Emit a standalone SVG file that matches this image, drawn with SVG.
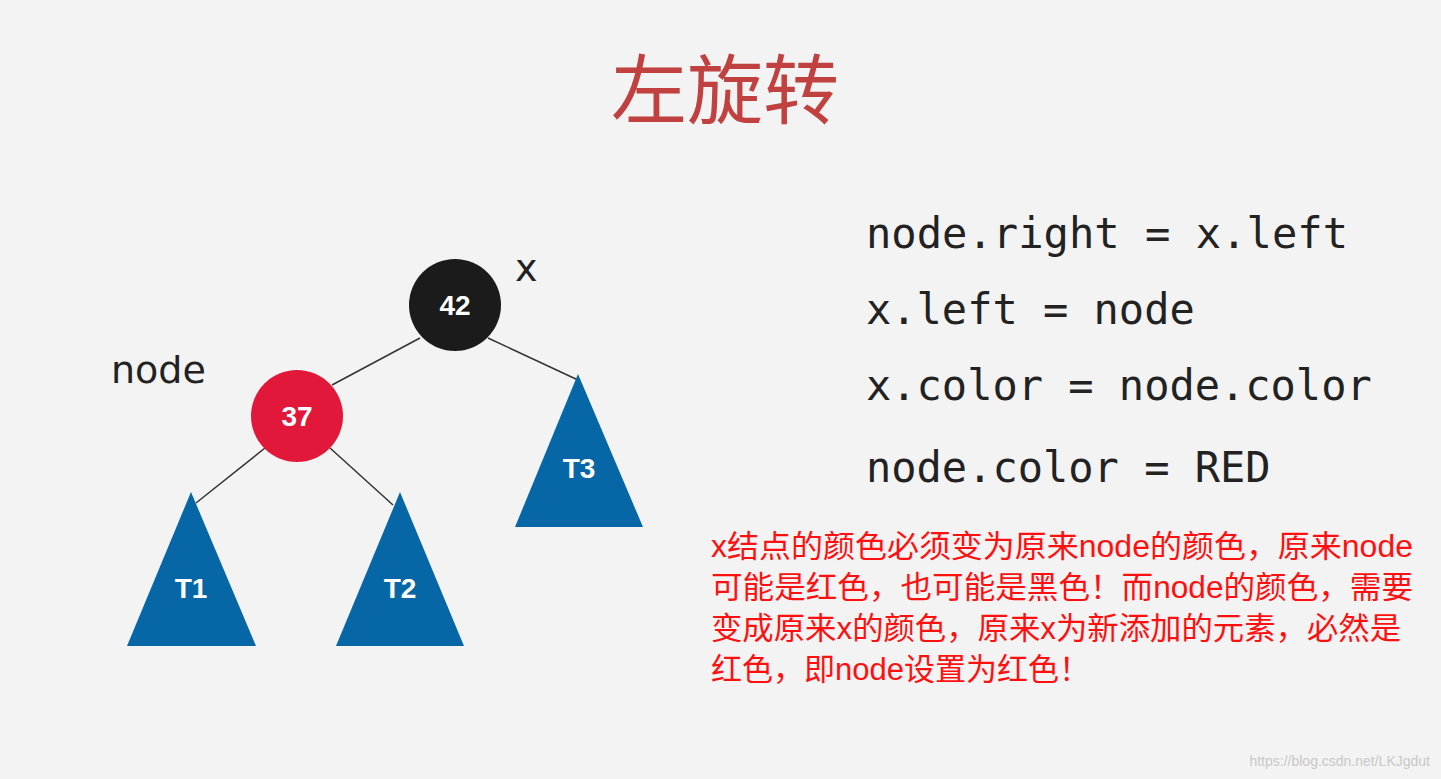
<svg xmlns="http://www.w3.org/2000/svg" width="1441" height="779" viewBox="0 0 1441 779">
<style>
.edge{stroke:#333;stroke-width:1.5;fill:none}
.tri{fill:#0767a6}
.tl{font-family:"Liberation Sans",Arial,sans-serif;font-weight:bold;font-size:28px;fill:#fff;text-anchor:middle}
.lbl{font-family:"DejaVu Sans","Liberation Sans",sans-serif;font-size:38px;fill:#222}
.code{font-family:"DejaVu Sans Mono","Liberation Mono",monospace;font-size:42px;fill:#222}
.note{font-family:"Liberation Sans","Noto Sans CJK SC",sans-serif;font-size:31px;fill:#ff1010}
</style>
<rect width="1441" height="779" fill="#f3f3f3"/>
<text x="725" y="118" text-anchor="middle" font-family="'Noto Sans CJK SC',sans-serif" font-size="76" fill="#c0413f">左旋转</text>
<g id="connectors">
<line class="edge" x1="420" y1="338" x2="332" y2="385"/>
<line class="edge" x1="488" y1="338" x2="578" y2="380"/>
<line class="edge" x1="265" y1="448" x2="196" y2="503"/>
<line class="edge" x1="330" y1="448" x2="393" y2="505"/>
</g>
<g id="n42"><circle cx="455" cy="305" r="46" fill="#1b1b1b"/><text class="tl" x="455" y="315">42</text></g>
<g id="n37"><circle cx="297" cy="416" r="46" fill="#e2183a"/><text class="tl" x="297" y="426">37</text></g>
<g id="T3"><polygon class="tri" points="578,374 643,527 515,527"/><text class="tl" x="579" y="478">T3</text></g>
<g id="T1"><polygon class="tri" points="191,492 256,646 127,646"/><text class="tl" x="191" y="598">T1</text></g>
<g id="T2"><polygon class="tri" points="400,492 464,646 336,646"/><text class="tl" x="400" y="598">T2</text></g>
<text class="lbl" x="515" y="281">x</text>
<text class="lbl" x="111" y="383">node</text>
<text class="code" x="866" y="248" textLength="482" lengthAdjust="spacingAndGlyphs">node.right = x.left</text>
<text class="code" x="866" y="324">x.left = node</text>
<text class="code" x="866" y="400">x.color = node.color</text>
<text class="code" x="866" y="482">node.color = RED</text>
<text class="note" x="711" y="557" textLength="702" lengthAdjust="spacingAndGlyphs">x结点的颜色必须变为原来node的颜色，原来node</text>
<text class="note" x="711" y="598" textLength="702" lengthAdjust="spacingAndGlyphs">可能是红色，也可能是黑色！而node的颜色，需要</text>
<text class="note" x="711" y="639" textLength="690" lengthAdjust="spacingAndGlyphs">变成原来x的颜色，原来x为新添加的元素，必然是</text>
<text class="note" x="711" y="680">红色，即node设置为红色！</text>
<text x="1430" y="766" text-anchor="end" font-family="'Liberation Sans',sans-serif" font-size="14" fill="#c8c8c8">https://blog.csdn.net/LKJgdut</text>
</svg>
